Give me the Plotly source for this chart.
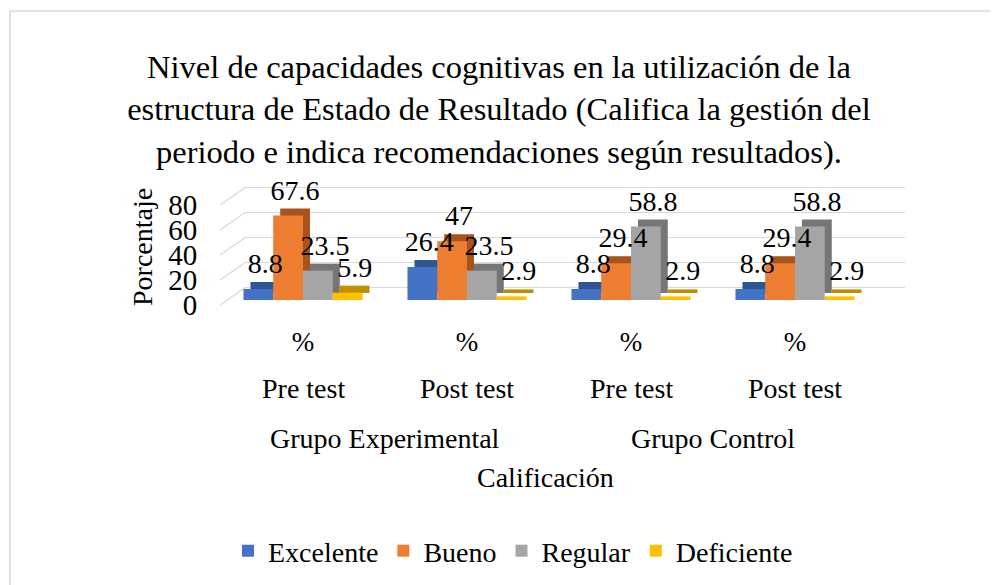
import plotly.graph_objects as go

# ---------------- data ----------------
categories = ["GE Pre test", "GE Post test", "GC Pre test", "GC Post test"]
unit_labels = ["%", "%", "%", "%"]
test_labels = ["Pre test", "Post test", "Pre test", "Post test"]
group_labels = ["Grupo Experimental", "Grupo Control"]
series_names = ["Excelente", "Bueno", "Regular", "Deficiente"]
excelente = [8.8, 26.4, 8.8, 8.8]
bueno = [67.6, 47, 29.4, 29.4]
regular = [23.5, 23.5, 58.8, 58.8]
deficiente = [5.9, 2.9, 2.9, 2.9]
y_ticks = [0, 20, 40, 60, 80]

title_text = ("Nivel de capacidades cognitivas en la utilización de la<br>"
              "estructura de Estado de Resultado (Califica la gestión del<br>"
              "periodo e indica recomendaciones según resultados).")

# ---------------- style ----------------
PAGE_OFF = 8                 # default body margin of the html page
W, H = 998 - PAGE_OFF, 585 - PAGE_OFF
FONT = "Liberation Serif, Times New Roman, serif"
front_colors = ["#4472C4", "#ED7D31", "#A5A5A5", "#FFC000"]
depth_colors = ["#2F5597", "#A9531C", "#767676", "#BF9000"]
grid_color = "#D9D9D9"

# pixel geometry (screen pixels)
SCALE = 1.25                 # px per unit
FX0, FX1 = 221, 877          # front plot area (x)
FY0 = 300                    # front base
FY1 = FY0 - 80 * SCALE       # front top (80)
DX, DY = 7, 7                # bar depth offset
GX0, GX1 = 246, 905          # back wall (x)
G_TOP = 81                   # back wall range top
GY0 = 287
GY1 = GY0 - G_TOP * SCALE


def px(x):
    return (x - PAGE_OFF) / W


def py(y):
    return 1 - (y - PAGE_OFF) / H


fig = go.Figure()

series_vals = [excelente, bueno, regular, deficiente]

# subplot 1: back-wall gridlines (empty trace)
fig.add_trace(go.Scatter(x=categories, y=[None] * 4, mode="markers",
                         showlegend=False, hoverinfo="skip",
                         xaxis="x", yaxis="y"))

# subplot 2: depth (top / side faces)
for name, vals, col in zip(series_names, series_vals, depth_colors):
    fig.add_trace(go.Bar(x=categories, y=vals, name=name, marker_color=col,
                         marker_line_width=0, showlegend=False,
                         hoverinfo="skip", xaxis="x2", yaxis="y2"))

# subplot 3: front faces
for name, vals, col in zip(series_names, series_vals, front_colors):
    fig.add_trace(go.Bar(x=categories, y=vals, name=name, marker_color=col,
                         marker_line_width=0, xaxis="x3", yaxis="y3"))

# subplot 4: data labels
for name, vals in zip(series_names, series_vals):
    fig.add_trace(go.Bar(x=categories, y=vals, name=name,
                         marker_color="rgba(0,0,0,0)", marker_line_width=0,
                         text=[f"{v:g}" for v in vals], textposition="outside",
                         constraintext="none", cliponaxis=False,
                         textfont=dict(family=FONT, size=28, color="#000000"),
                         showlegend=False, hoverinfo="skip",
                         xaxis="x4", yaxis="y4"))

hidden_x = dict(showgrid=False, zeroline=False, showticklabels=False,
                showline=False, ticks="", type="category", automargin=False,
                range=[-0.5, 3.5], fixedrange=True)
hidden_y = dict(showgrid=False, zeroline=False, showticklabels=False,
                showline=False, ticks="", range=[0, 80], automargin=False,
                fixedrange=True)

layout = dict(
    template="none",
    width=W, height=H,
    margin=dict(l=0, r=0, t=0, b=0, autoexpand=False),
    paper_bgcolor="white", plot_bgcolor="rgba(0,0,0,0)",
    font=dict(family=FONT, size=28, color="#000000"),
    barmode="group", bargap=0.274, bargroupgap=0,
    title=dict(text=title_text, x=px(499), xanchor="center", y=py(78),
               yanchor="top", font=dict(family=FONT, size=32.5)),
    showlegend=True,
    legend=dict(orientation="h", x=px(513), xanchor="center", y=py(551),
                yanchor="middle", font=dict(family=FONT, size=28),
                traceorder="normal", itemwidth=30, bgcolor="rgba(0,0,0,0)"),
    xaxis=dict(hidden_x, domain=[px(GX0), px(GX1)], anchor="y"),
    yaxis=dict(hidden_y, domain=[py(GY0), py(GY1)], anchor="x",
               range=[0, G_TOP],
               showgrid=True, gridcolor=grid_color, gridwidth=1.3,
               zeroline=True, zerolinecolor=grid_color, zerolinewidth=1.3,
               tickvals=y_ticks),
    xaxis2=dict(hidden_x, domain=[px(FX0 + DX), px(FX1 + DX)], anchor="y2"),
    yaxis2=dict(hidden_y, domain=[py(FY0 - DY), py(FY1 - DY)], anchor="x2"),
    xaxis3=dict(hidden_x, domain=[px(FX0), px(FX1)], anchor="y3",
                showticklabels=True, tickmode="array", tickvals=categories,
                ticktext=unit_labels, ticks="outside", ticklen=18,
                tickcolor="rgba(0,0,0,0)", tickfont=dict(size=27)),
    yaxis3=dict(hidden_y, domain=[py(FY0), py(FY1)], anchor="x3",
                showticklabels=True, tickvals=y_ticks, ticks="outside",
                ticklen=17, tickcolor="rgba(0,0,0,0)", ticklabelshift=5,
                tickfont=dict(size=29)),
    xaxis4=dict(hidden_x, domain=[px(FX0 + DX), px(FX1 + DX)], anchor="y4"),
    yaxis4=dict(hidden_y, domain=[py(FY0 - DY), py(FY1 - DY)], anchor="x4"),
)
fig.update_layout(**layout)

# chart border
fig.add_shape(type="rect", xref="paper", yref="paper",
              x0=px(10), x1=1.02, y0=-0.02, y1=py(11),
              line=dict(color="#D9D9D9", width=1.5), fillcolor="rgba(0,0,0,0)",
              layer="below")

# side-wall diagonal gridlines
for v in y_ticks:
    fig.add_shape(type="line", xref="paper", yref="paper",
                  x0=px(FX0 - 1), y0=py(305 - v * SCALE),
                  x1=px(GX0), y1=py(GY0 - v * SCALE),
                  line=dict(color=grid_color, width=1.3), layer="below")

# multi-level category labels
for i, lab in enumerate(test_labels):
    fig.add_annotation(x=i, y=py(388), xref="x3", yref="paper", text=lab,
                       showarrow=False, yanchor="middle",
                       font=dict(family=FONT, size=28))
for j, lab in enumerate(group_labels):
    fig.add_annotation(x=2 * j + 0.5, y=py(438), xref="x3", yref="paper",
                       text=lab, showarrow=False, yanchor="middle",
                       font=dict(family=FONT, size=28))

# axis titles
fig.add_annotation(x=px(545), y=py(477), xref="paper", yref="paper",
                   text="Calificación", showarrow=False, yanchor="middle",
                   font=dict(family=FONT, size=28))
fig.add_annotation(x=px(142), y=py(247), xref="paper", yref="paper",
                   text="Porcentaje", showarrow=False, textangle=-90,
                   xanchor="center", yanchor="middle",
                   font=dict(family=FONT, size=28))

fig.write_html("out.html")
